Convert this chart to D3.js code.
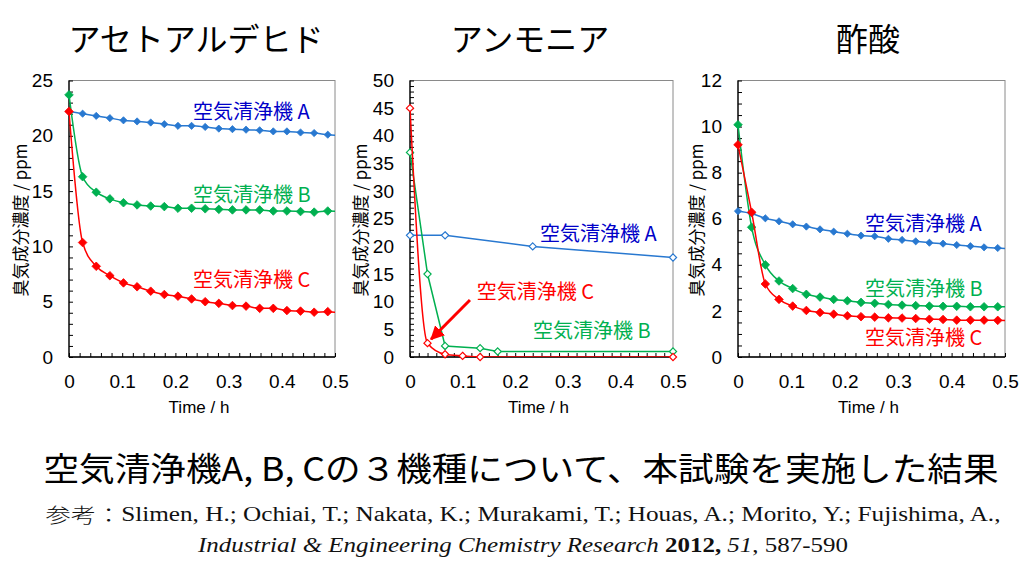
<!DOCTYPE html>
<html><head><meta charset="utf-8">
<script src="https://cdn.jsdelivr.net/npm/d3@7"></script>
<style>body{margin:0;background:#fff}</style>
</head><body><svg id="c" width="1024" height="576"></svg>
<script>
// ---------- data ----------
const titles = ["アセトアルデヒド", "アンモニア", "酢酸"];
const seriesNames = ["空気清浄機 A", "空気清浄機 B", "空気清浄機 C"];
const yAxisTitle = "臭気成分濃度 / ppm";
const xAxisTitle = "Time / h";
const xTickValues = [0, 0.1, 0.2, 0.3, 0.4, 0.5];

// charts 1 & 3 : sampling times (h); the last sample lies past 0.5 h and is clipped
const timesFine = [0, 0.0256, 0.0512, 0.0768, 0.1024, 0.128, 0.1536, 0.1792, 0.2048, 0.2304,
  0.256, 0.2816, 0.3072, 0.3328, 0.3584, 0.384, 0.4096, 0.4352, 0.4608, 0.4864, 0.512];

// アセトアルデヒド
const acetaldehydeA = [22.2, 22.0, 21.8, 21.6, 21.4, 21.3, 21.2, 21.05, 20.9, 20.9, 20.8, 20.65, 20.6, 20.55, 20.5, 20.4, 20.4, 20.3, 20.25, 20.1, 20.0];
const acetaldehydeB = [23.7, 16.3, 14.9, 14.3, 13.95, 13.75, 13.65, 13.6, 13.45, 13.45, 13.4, 13.35, 13.3, 13.3, 13.3, 13.2, 13.2, 13.15, 13.1, 13.2, 13.15];
const acetaldehydeC = [22.2, 10.35, 8.2, 7.35, 6.7, 6.35, 5.95, 5.65, 5.5, 5.25, 5.0, 4.85, 4.65, 4.6, 4.4, 4.4, 4.2, 4.15, 4.05, 4.1, 3.95];

// アンモニア
const ammoniaTimesA = [0, 0.0667, 0.2333, 0.5];
const ammoniaA = [22, 22, 20, 18];
const ammoniaTimesB = [0, 0.0333, 0.0667, 0.1333, 0.1667, 0.5];
const ammoniaB = [37, 15, 2, 1.6, 1, 1];
const ammoniaTimesC = [0, 0.0333, 0.0667, 0.1, 0.1333, 0.5];
const ammoniaC = [45, 2.5, 0.5, 0.2, 0, 0];

// 酢酸
const aceticA = [6.33, 6.23, 6.02, 5.89, 5.76, 5.66, 5.54, 5.44, 5.35, 5.27, 5.24, 5.13, 5.08, 5.02, 4.96, 4.92, 4.86, 4.81, 4.76, 4.73, 4.68];
const aceticB = [10.08, 5.63, 4.0, 3.3, 2.97, 2.72, 2.6, 2.5, 2.44, 2.37, 2.33, 2.28, 2.25, 2.23, 2.21, 2.2, 2.2, 2.18, 2.18, 2.18, 2.17];
const aceticC = [9.21, 6.28, 3.17, 2.5, 2.21, 2.02, 1.93, 1.86, 1.79, 1.75, 1.73, 1.70, 1.69, 1.67, 1.64, 1.63, 1.6, 1.6, 1.6, 1.59, 1.57];

// y axes
const yMaxes = [25, 50, 12];
const yMajorSteps = [5, 5, 2];
const yMinorSteps = [1, 1, 0.5];
const xMinorSteps = [0.02, 1 / 60, 0.02];

// series-label anchor positions in data units [t, value]
const labelPos = [
  [[0.233, 22.3], [0.233, 14.8], [0.233, 7.13]],
  [[0.247, 22.6], [0.234, 4.9], [0.127, 12.1]],
  [[0.238, 5.85], [0.238, 3.03], [0.238, 0.91]]
];
// ammonia arrow (data units): from label toward 空気清浄機 C point
const arrowFrom = [0.114, 10.3];
const arrowTo = [0.040, 3.2];

const headline = "空気清浄機A, B, Cの３機種について、本試験を実施した結果";

// ---------- style ----------
const lineColors = ["#2878D0", "#00B050", "#FF0000"];
const textColors = ["#0000C8", "#00B050", "#FF0000"];
const panelsGeom = [
  { left: 69, right: 335, titleX: 196, yTitleX: 19 },
  { left: 410, right: 673, titleX: 530, yTitleX: 359 },
  { left: 738, right: 1005, titleX: 868, yTitleX: 695 }
];
const TOP = 80.5, BOTTOM = 357;

const svg = d3.select("#c");
const defs = svg.append("defs");
defs.append("marker").attr("id", "arrowhead")
  .attr("markerUnits", "userSpaceOnUse")
  .attr("viewBox", "0 0 12 12").attr("refX", 11).attr("refY", 6)
  .attr("markerWidth", 14).attr("markerHeight", 14).attr("orient", "auto")
  .append("path").attr("d", "M0,0 L12,6 L0,12 Z").attr("fill", "#FF0000");

const panelSeries = [
  { filled: true, curve: [true, true, true],
    series: [[timesFine, acetaldehydeA], [timesFine, acetaldehydeB], [timesFine, acetaldehydeC]] },
  { filled: false, curve: [false, false, true],
    series: [[ammoniaTimesA, ammoniaA], [ammoniaTimesB, ammoniaB], [ammoniaTimesC, ammoniaC]] },
  { filled: true, curve: [true, true, true],
    series: [[timesFine, aceticA], [timesFine, aceticB], [timesFine, aceticC]] }
];

const diamond = s => `M0,${-s} L${s},0 L0,${s} L${-s},0 Z`;

panelsGeom.forEach((geo, pi) => {
  const g = svg.append("g");
  const x = d3.scaleLinear().domain([0, 0.5]).range([geo.left, geo.right]);
  const y = d3.scaleLinear().domain([0, yMaxes[pi]]).range([BOTTOM, TOP]);

  defs.append("clipPath").attr("id", "clip" + pi).append("rect")
    .attr("x", geo.left).attr("y", TOP - 10).attr("width", geo.right - geo.left).attr("height", BOTTOM - TOP + 10);

  // frame
  g.append("rect").attr("x", geo.left).attr("y", TOP).attr("width", geo.right - geo.left)
    .attr("height", BOTTOM - TOP).attr("fill", "none").attr("stroke", "#8a8a8a").attr("stroke-width", 1);

  // minor/major tick marks (inside)
  const yTicks = d3.range(0, yMaxes[pi] + 1e-9, yMinorSteps[pi]);
  const xTicks = d3.range(0, 0.5 + 1e-9, xMinorSteps[pi]);
  g.append("g").attr("transform", `translate(${geo.left},0)`)
    .call(d3.axisLeft(y).tickValues(yTicks).tickSize(-4).tickFormat(""))
    .call(a => a.select(".domain").remove())
    .selectAll("line").attr("stroke", "#000");
  g.append("g").attr("transform", `translate(0,${BOTTOM})`)
    .call(d3.axisBottom(x).tickValues(xTicks).tickSize(-4).tickFormat(""))
    .call(a => a.select(".domain").remove())
    .selectAll("line").attr("stroke", "#000");
  // axis lines
  g.append("line").attr("x1", geo.left).attr("x2", geo.left).attr("y1", TOP).attr("y2", BOTTOM).attr("stroke", "#000").attr("stroke-width", 1.3);
  g.append("line").attr("x1", geo.left).attr("x2", geo.right).attr("y1", BOTTOM).attr("y2", BOTTOM).attr("stroke", "#000").attr("stroke-width", 1.3);

  // tick labels
  const yLab = g.append("g").attr("transform", `translate(${geo.left},0)`)
    .call(d3.axisLeft(y).tickValues(d3.range(0, yMaxes[pi] + 1e-9, yMajorSteps[pi])).tickSize(0).tickPadding(16).tickFormat(d3.format("d")));
  yLab.select(".domain").remove();
  yLab.selectAll("text").attr("font-family", "Liberation Sans, Arial, sans-serif").attr("font-size", 19).attr("fill", "#000");
  const xLab = g.append("g").attr("transform", `translate(0,${BOTTOM})`)
    .call(d3.axisBottom(x).tickValues(xTickValues).tickSize(0).tickPadding(18).tickFormat(d => d === 0 ? "0" : d3.format(".1f")(d)));
  xLab.select(".domain").remove();
  xLab.selectAll("text").attr("font-family", "Liberation Sans, Arial, sans-serif").attr("font-size", 19).attr("fill", "#000");

  // axis titles
  g.append("text").attr("x", (geo.left + geo.right) / 2 - 3).attr("y", 407).attr("text-anchor", "middle")
    .attr("dominant-baseline", "central").attr("font-family", "Liberation Sans, Arial, sans-serif")
    .attr("font-size", 17).text(xAxisTitle);
  g.append("text").attr("transform", `translate(${geo.yTitleX},220) rotate(-90)`).attr("text-anchor", "middle")
    .attr("dominant-baseline", "central").attr("font-family", "Noto Sans CJK JP, sans-serif")
    .attr("font-size", 17).text(yAxisTitle);

  // chart title
  svg.append("text").attr("x", geo.titleX).attr("y", 37).attr("text-anchor", "middle")
    .attr("dominant-baseline", "central").attr("font-family", "Noto Sans CJK JP, sans-serif")
    .attr("font-size", 32).text(titles[pi]);

  // series
  const ps = panelSeries[pi];
  ps.series.forEach(([ts, vs], si) => {
    const pts = ts.map((t, i) => [t, vs[i]]);
    const line = d3.line().x(d => x(d[0])).y(d => y(d[1]))
      .curve(ps.curve[si] ? d3.curveMonotoneX : d3.curveLinear);
    g.append("path").attr("d", line(pts)).attr("fill", "none")
      .attr("stroke", lineColors[si]).attr("stroke-width", 1.5).attr("clip-path", `url(#clip${pi})`);
    const size = ps.filled ? (si === 0 ? 3.6 : 4.3) : 3.6;
    g.selectAll(null).data(pts.filter(d => d[0] <= 0.5)).enter().append("path")
      .attr("transform", d => `translate(${x(d[0])},${y(d[1])})`)
      .attr("d", diamond(size))
      .attr("fill", ps.filled ? lineColors[si] : "#fff")
      .attr("stroke", lineColors[si]).attr("stroke-width", ps.filled ? 0.8 : 1.2);
  });

  // series labels
  labelPos[pi].forEach((p, si) => {
    g.append("text").attr("x", x(p[0])).attr("y", y(p[1])).attr("dominant-baseline", "central")
      .attr("font-family", "Noto Sans CJK JP, sans-serif").attr("font-size", 20)
      .attr("fill", textColors[si]).text(seriesNames[si]);
  });

  if (pi === 1) {
    g.append("line").attr("x1", x(arrowFrom[0])).attr("y1", y(arrowFrom[1]))
      .attr("x2", x(arrowTo[0])).attr("y2", y(arrowTo[1]))
      .attr("stroke", "#FF0000").attr("stroke-width", 3).attr("marker-end", "url(#arrowhead)");
  }
});

// headline
svg.append("text").attr("x", 521).attr("y", 467).attr("text-anchor", "middle").attr("dominant-baseline", "central")
  .attr("font-family", "Noto Sans CJK JP, sans-serif").attr("font-size", 33)
  .attr("textLength", 955).attr("lengthAdjust", "spacingAndGlyphs").text(headline);

// reference
const ref1 = svg.append("text").attr("x", 523).attr("y", 514).attr("text-anchor", "middle")
  .attr("dominant-baseline", "central").attr("font-family", "Liberation Serif, Times New Roman, serif")
  .attr("font-size", 20).attr("fill", "#111").attr("textLength", 955).attr("lengthAdjust", "spacingAndGlyphs");
ref1.append("tspan").attr("font-family", "Noto Sans CJK JP, sans-serif").attr("font-weight", 300).text("参考：");
ref1.append("tspan").text("Slimen, H.; Ochiai, T.; Nakata, K.; Murakami, T.; Houas, A.; Morito, Y.; Fujishima, A.,");

const ref2 = svg.append("text").attr("x", 523).attr("y", 545).attr("text-anchor", "middle")
  .attr("dominant-baseline", "central").attr("font-family", "Liberation Serif, Times New Roman, serif")
  .attr("font-size", 20).attr("fill", "#111").attr("textLength", 650).attr("lengthAdjust", "spacingAndGlyphs");
ref2.append("tspan").attr("font-style", "italic").text("Industrial & Engineering Chemistry Research ");
ref2.append("tspan").attr("font-weight", "bold").text("2012,");
ref2.append("tspan").text(" ");
ref2.append("tspan").attr("font-style", "italic").text("51");
ref2.append("tspan").text(", 587-590");
</script>
</body></html>
